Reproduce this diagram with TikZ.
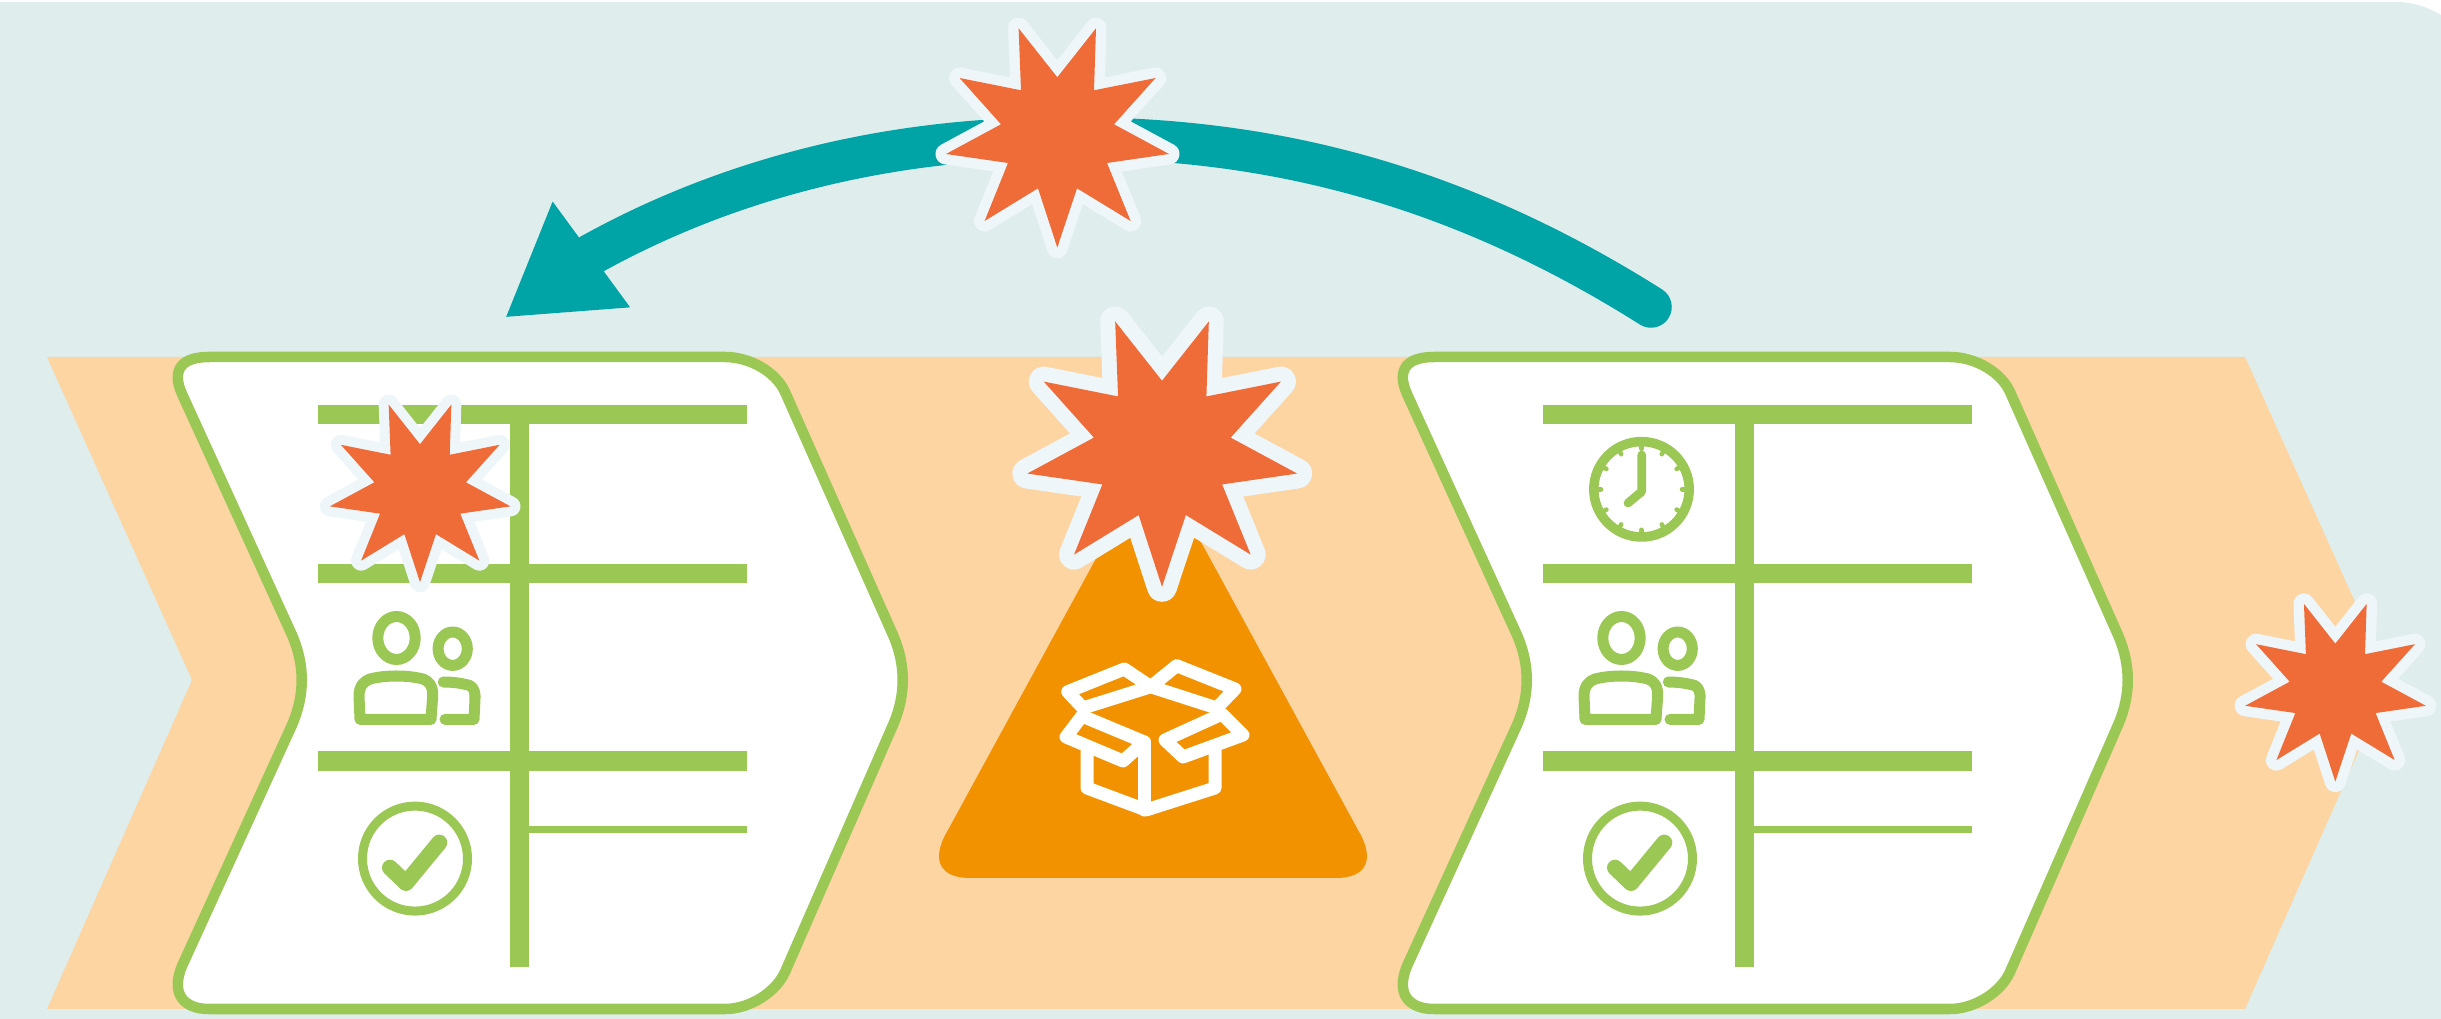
\documentclass[tikz,border=0pt]{standalone}
\usepackage{xcolor}
\usepackage{tikz}
\usetikzlibrary{arrows.meta}
\definecolor{wallblue}{HTML}{DFEDED}
\definecolor{bandpeach}{HTML}{FDD5A3}
\definecolor{sheetgreen}{HTML}{9BC755}
\definecolor{flowteal}{HTML}{00A3A6}
\definecolor{conedark}{HTML}{F39200}
\definecolor{burstred}{HTML}{EF6C39}
\definecolor{bursthalo}{HTML}{EEF6FA}

\begin{document}
\begin{tikzpicture}[
  x=0.01cm, y=-0.01cm,
  sheetline/.style={draw=sheetgreen, fill=white, line width=1.05mm},
  gridbar/.style={draw=sheetgreen, line width=1.9mm},
  gridthin/.style={draw=sheetgreen, line width=0.75mm},
  iconline/.style={draw=sheetgreen, line width=1.1mm, line cap=round, line join=round},
  boxline/.style={draw=white, line width=1.3mm, line cap=round, line join=round},
  flow/.style={draw=flowteal, line width=4.15mm, line cap=round, -{Triangle[length=10.7mm, width=12.3mm]}},
  burst/.pic={
    \def\burstpath{(-38.7,-105) -- (0,-56) -- (38.7,-105) -- (36.7,-43) -- (98.3,-55.3) -- (56.7,-9)
      -- (111.7,20.7) -- (49.7,29.7) -- (73.3,87.7) -- (19.7,55) -- (0,114.3) -- (-19.3,55)
      -- (-72.7,87.7) -- (-49.3,29.7) -- (-111.3,20.7) -- (-56.3,-9) -- (-97.7,-55.3) -- (-36.3,-43) -- cycle}
    \draw[bursthalo, line width=#1, line join=round] \burstpath;
    \fill[burstred] \burstpath;
  },
  sheet/.pic={
    \draw[sheetline] (209,357) -- (725,357) .. controls (750,357) and (776,372) .. (785,392)
      -- (893,635) .. controls (906,665) and (906,695) .. (893,725)
      -- (785,972) .. controls (776,992) and (750,1009) .. (725,1009)
      -- (209,1009) .. controls (185,1009) and (170,995) .. (182,966)
      -- (292,725) .. controls (305,695) and (305,665) .. (292,635)
      -- (182,394) .. controls (170,367) and (185,357) .. (209,357) -- cycle;
    \foreach \rowy in {415,573.5,761}
      \draw[gridbar] (318,\rowy) -- (747,\rowy);
    \draw[gridthin] (519.5,829.5) -- (747,829.5);
    \draw[gridbar] (519.5,406) -- (519.5,967.5);
    \draw[iconline] (396.5,638) ellipse [x radius=18.7, y radius=21.5];
    \draw[iconline] (452.7,648.7) ellipse [x radius=14.6, y radius=16.7];
    \draw[iconline] (360,719.4) -- (359,696) .. controls (359,686) and (364,681) .. (370,679)
      .. controls (386,675) and (407,675) .. (423,679) .. controls (429,681) and (433,686) .. (432.7,696)
      -- (431,719.4) -- cycle;
    \draw[iconline] (443.3,682) .. controls (452,682) and (461,683) .. (470,685.6)
      .. controls (474,688) and (475.5,693) .. (475,698.6) -- (474,719.4) -- (445,719.4);
    \draw[iconline, line width=0.9mm] (415,858.6) circle [radius=52.5];
    \draw[iconline, line width=1.6mm] (390,867.7) -- (406,883) -- (439.3,842.6);
  }
]
\useasboundingbox (0,0) rectangle (2441,1019);
\fill[wallblue] (0,2) -- (2397,2) .. controls (2412,2) and (2428,7) .. (2441,15) -- (2441,1019) -- (0,1019) -- cycle;
\fill[bandpeach] (47,357) -- (2245,357) -- (2390,680) -- (2245,1009) -- (47,1009) -- (192,680) -- cycle;

\pic (leftsheet) at (0,0) {sheet};
\pic (rightsheet) at (1225,0) {sheet};

\draw[iconline, line width=0.95mm] (1641.5,489.3) circle [radius=47.7];
\foreach \tickangle in {0,30,...,330}
  \draw[iconline, line width=0.45mm] (1641.5,489.3) ++(\tickangle:43) -- ++(\tickangle:-2.5);
\draw[iconline, line width=0.87mm] (1641.7,455) -- (1641.7,491.7) -- (1628,503);

\pic[scale=0.81] (sheetburst) at (420,489.6) {burst=2.0mm};

\fill[conedark] (1153,454) -- (948,830) .. controls (930,860) and (940,878) .. (970,878)
  -- (1336,878) .. controls (1366,878) and (1376,860) .. (1358,830) -- cycle;

\draw[boxline] (1150.7,686.7) -- (1124.3,669) -- (1067.7,691.7) -- (1083,708) -- cycle;
\draw[boxline] (1150.7,686.7) -- (1176.7,665.7) -- (1235,689) -- (1216.7,708) -- cycle;
\draw[boxline] (1082,716) -- (1144.3,742) -- (1123,761) -- (1066,737) -- cycle;
\draw[boxline] (1165,740) -- (1222,714) -- (1243,735) -- (1183,757) -- cycle;
\draw[boxline] (1087,752) -- (1087,788) -- (1146,810) -- (1215,788) -- (1215,750);
\draw[boxline] (1144.3,742) -- (1144.3,810);

\pic[scale=1.21] (coneburst) at (1162,448.5) {burst=3.0mm};

\coordinate (flowtail) at (1651,307);
\coordinate (flowtip) at (505,317.7);
\draw[flow] (flowtail) .. controls (1450,180) and (1260,136) .. (1060,138)
  .. controls (880,138) and (722,182) .. (592,254) -- (flowtip);

\pic (topburst) at (1057.3,133.3) {burst=2.1mm};
\pic[scale=0.81] (edgeburst) at (2335.3,689) {burst=2.1mm};
\end{tikzpicture}
\end{document}
